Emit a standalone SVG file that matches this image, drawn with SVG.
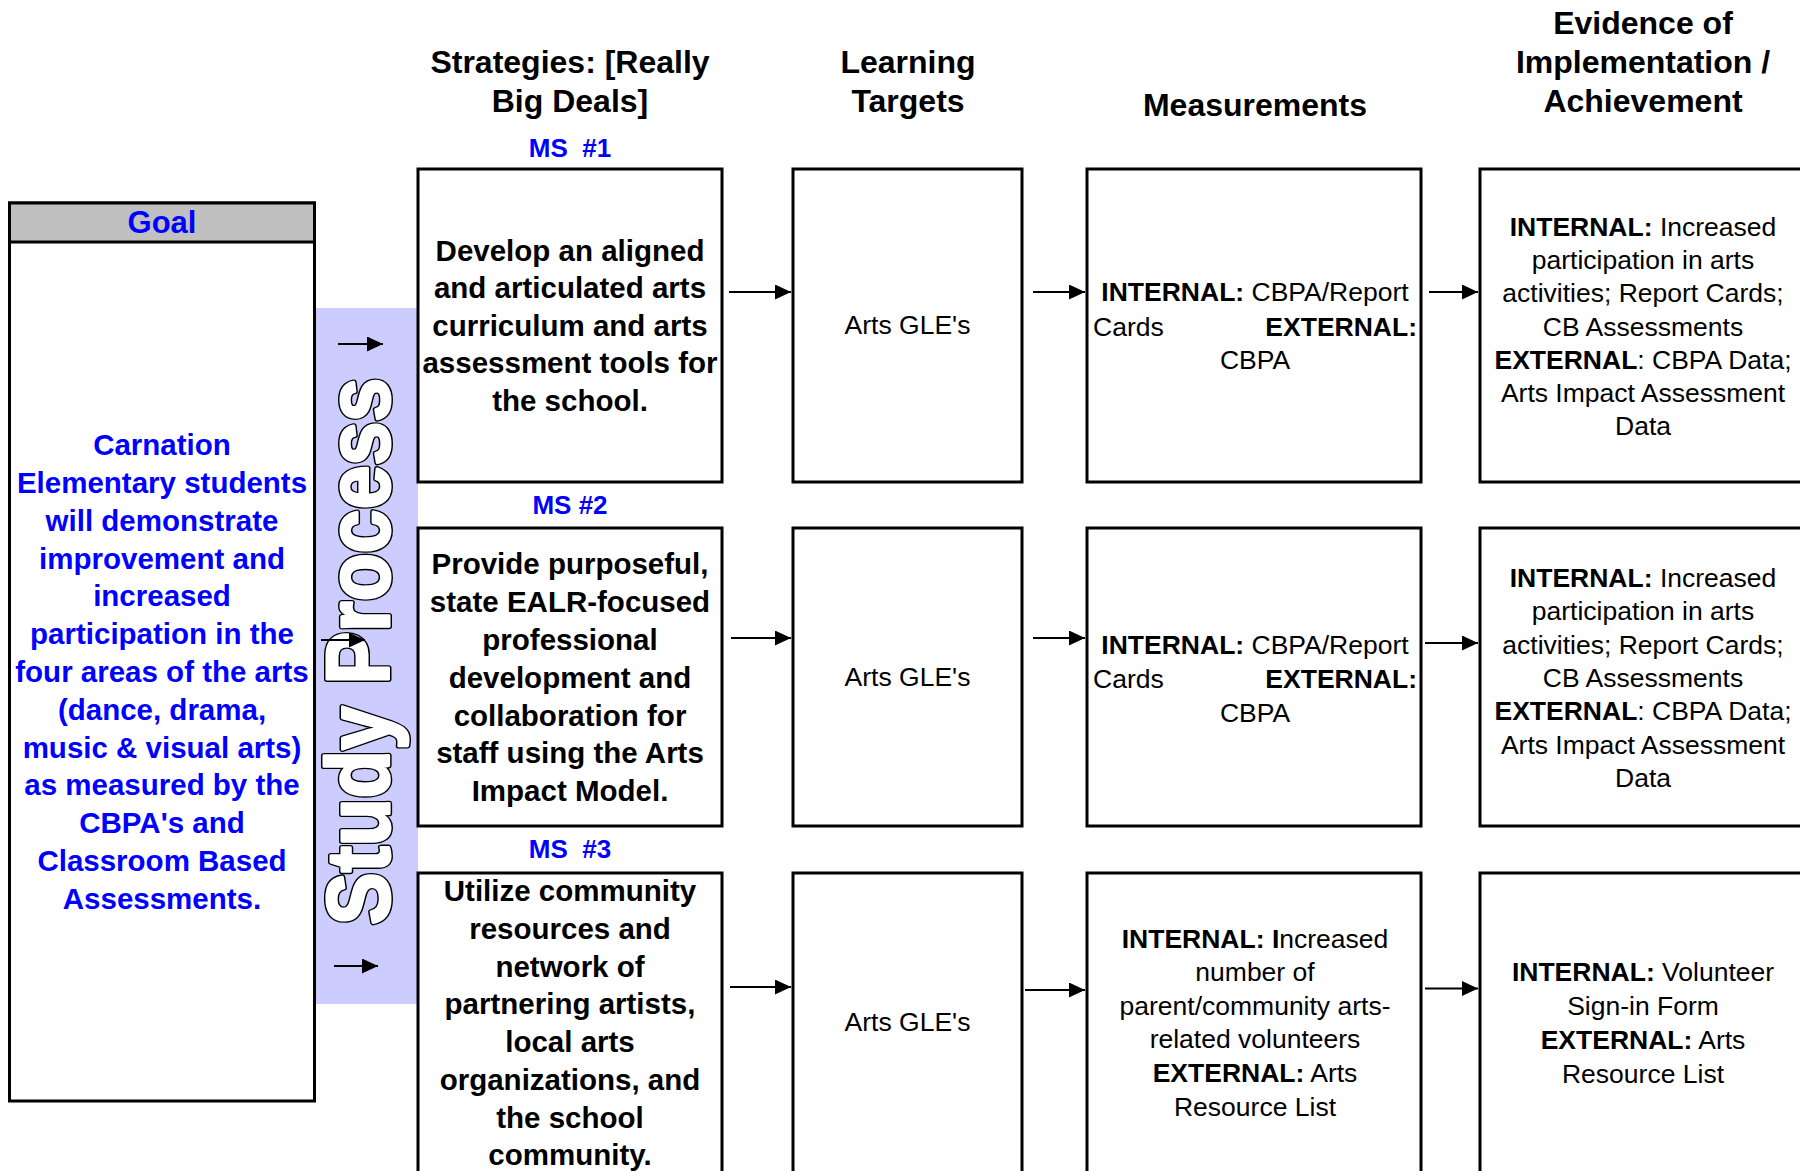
<svg xmlns="http://www.w3.org/2000/svg" width="1800" height="1171" viewBox="0 0 1800 1171">
<style>
text{font-family:"Liberation Sans",Arial,Helvetica,sans-serif;text-anchor:middle}
.hdr{font-size:32px;font-weight:bold;fill:#000}
.ms{font-size:26px;font-weight:bold;fill:#0000FF}
.strat{font-size:29.5px;font-weight:bold;fill:#000}
.goal{font-size:29.5px;font-weight:bold;fill:#0000FF}
.body{font-size:26.5px;fill:#000}
.b{font-weight:bold}
.box{fill:#fff;stroke:#000;stroke-width:3}
.sp{text-anchor:start;font-size:89px;font-weight:bold;fill:#fff}
.conn line{stroke:#000;stroke-width:2;marker-end:url(#ah)}
</style>
<defs>
<marker id="ah" markerUnits="userSpaceOnUse" markerWidth="16" markerHeight="15" refX="16" refY="7.5" orient="auto">
<path d="M0,0 L16,7.5 L0,15 z" fill="#000"/>
</marker>
</defs>
<rect width="1800" height="1171" fill="#fff"/>

<g id="headers">
<text class="hdr" x="570" y="73">Strategies: [Really</text>
<text class="hdr" x="570" y="112">Big Deals]</text>
<text class="hdr" x="908" y="73">Learning</text>
<text class="hdr" x="908" y="112">Targets</text>
<text class="hdr" x="1255" y="116">Measurements</text>
<text class="hdr" x="1643" y="34">Evidence of</text>
<text class="hdr" x="1643" y="73">Implementation /</text>
<text class="hdr" x="1643" y="112">Achievement</text>
</g>

<g id="study-process">
<rect x="315" y="308" width="103" height="696" fill="#CCCCFF"/>
<text class="sp" transform="translate(389,925) rotate(-90)" style="stroke:#000;stroke-width:6;stroke-linejoin:round" textLength="547" lengthAdjust="spacingAndGlyphs">Study Process</text>
<text class="sp" transform="translate(389,925) rotate(-90)" style="stroke:#fff;stroke-width:3;stroke-linejoin:round" textLength="547" lengthAdjust="spacingAndGlyphs">Study Process</text>
</g>

<g id="goal">
<rect class="box" x="9.5" y="203" width="305" height="898"/>
<rect x="9.5" y="203" width="305" height="39" fill="#C0C0C0" stroke="#000" stroke-width="3"/>
<text x="162" y="233" style="font-size:31px;font-weight:bold;fill:#0000FF">Goal</text>
<text class="goal" x="162" y="455">Carnation</text>
<text class="goal" x="162" y="493">Elementary students</text>
<text class="goal" x="162" y="530.5">will demonstrate</text>
<text class="goal" x="162" y="568.5">improvement and</text>
<text class="goal" x="162" y="606">increased</text>
<text class="goal" x="162" y="644">participation in the</text>
<text class="goal" x="162" y="682">four areas of the arts</text>
<text class="goal" x="162" y="719.5">(dance, drama,</text>
<text class="goal" x="162" y="757.5">music &amp; visual arts)</text>
<text class="goal" x="162" y="795">as measured by the</text>
<text class="goal" x="162" y="833">CBPA's and</text>
<text class="goal" x="162" y="871">Classroom Based</text>
<text class="goal" x="162" y="908.5">Assessments.</text>
</g>

<g id="strategy-1">
<text class="ms" x="570" y="157" xml:space="preserve">MS  #1</text>
<rect class="box" x="418" y="169" width="304" height="313"/>
<text class="strat" x="570" y="261">Develop an aligned</text>
<text class="strat" x="570" y="298">and articulated arts</text>
<text class="strat" x="570" y="336">curriculum and arts</text>
<text class="strat" x="570" y="373">assessment tools for</text>
<text class="strat" x="570" y="411">the school.</text>
</g>

<g id="strategy-2">
<text class="ms" x="570" y="514">MS #2</text>
<rect class="box" x="418" y="528" width="304" height="298"/>
<text class="strat" x="570" y="574">Provide purposeful,</text>
<text class="strat" x="570" y="612">state EALR-focused</text>
<text class="strat" x="570" y="650">professional</text>
<text class="strat" x="570" y="688">development and</text>
<text class="strat" x="570" y="726">collaboration for</text>
<text class="strat" x="570" y="763">staff using the Arts</text>
<text class="strat" x="570" y="801">Impact Model.</text>
</g>

<g id="strategy-3">
<text class="ms" x="570" y="858" xml:space="preserve">MS  #3</text>
<rect class="box" x="418" y="873" width="304" height="330"/>
<text class="strat" x="570" y="901">Utilize community</text>
<text class="strat" x="570" y="939">resources and</text>
<text class="strat" x="570" y="977">network of</text>
<text class="strat" x="570" y="1014">partnering artists,</text>
<text class="strat" x="570" y="1052">local arts</text>
<text class="strat" x="570" y="1090">organizations, and</text>
<text class="strat" x="570" y="1128">the school</text>
<text class="strat" x="570" y="1165">community.</text>
</g>

<g id="target-1">
<rect class="box" x="793" y="169" width="229" height="313"/>
<text class="body" x="907.5" y="334">Arts GLE's</text>
</g>
<g id="target-2">
<rect class="box" x="793" y="528" width="229" height="298"/>
<text class="body" x="907.5" y="686">Arts GLE's</text>
</g>
<g id="target-3">
<rect class="box" x="793" y="873" width="229" height="330"/>
<text class="body" x="907.5" y="1031">Arts GLE's</text>
</g>

<g id="measurement-1">
<rect class="box" x="1087" y="169" width="334" height="313"/>
<text class="body" x="1255" y="301"><tspan class="b">INTERNAL:</tspan> CBPA/Report</text>
<text class="body" x="1093" y="335.5" style="text-anchor:start">Cards</text>
<text class="body b" x="1417" y="335.5" style="text-anchor:end">EXTERNAL:</text>
<text class="body" x="1255" y="369">CBPA</text>
</g>
<g id="measurement-2">
<rect class="box" x="1087" y="528" width="334" height="298"/>
<text class="body" x="1255" y="653.5"><tspan class="b">INTERNAL:</tspan> CBPA/Report</text>
<text class="body" x="1093" y="688" style="text-anchor:start">Cards</text>
<text class="body b" x="1417" y="688" style="text-anchor:end">EXTERNAL:</text>
<text class="body" x="1255" y="721.5">CBPA</text>
</g>
<g id="measurement-3">
<rect class="box" x="1087" y="873" width="334" height="330"/>
<text class="body" x="1255" y="947.5"><tspan class="b">INTERNAL: I</tspan>ncreased</text>
<text class="body" x="1255" y="981">number of</text>
<text class="body" x="1255" y="1014.5">parent/community arts-</text>
<text class="body" x="1255" y="1048">related volunteers</text>
<text class="body" x="1255" y="1081.5"><tspan class="b">EXTERNAL:</tspan> Arts</text>
<text class="body" x="1255" y="1115.5">Resource List</text>
</g>

<g id="evidence-1">
<rect class="box" x="1480" y="169" width="330" height="313"/>
<text class="body" x="1643" y="235.5"><tspan class="b">INTERNAL:</tspan> Increased</text>
<text class="body" x="1643" y="269">participation in arts</text>
<text class="body" x="1643" y="302">activities; Report Cards;</text>
<text class="body" x="1643" y="335.5">CB Assessments</text>
<text class="body" x="1643" y="369"><tspan class="b">EXTERNAL</tspan>: CBPA Data;</text>
<text class="body" x="1643" y="402">Arts Impact Assessment</text>
<text class="body" x="1643" y="435">Data</text>
</g>
<g id="evidence-2">
<rect class="box" x="1480" y="528" width="330" height="298"/>
<text class="body" x="1643" y="587"><tspan class="b">INTERNAL:</tspan> Increased</text>
<text class="body" x="1643" y="620">participation in arts</text>
<text class="body" x="1643" y="653.5">activities; Report Cards;</text>
<text class="body" x="1643" y="686.5">CB Assessments</text>
<text class="body" x="1643" y="720"><tspan class="b">EXTERNAL</tspan>: CBPA Data;</text>
<text class="body" x="1643" y="753.5">Arts Impact Assessment</text>
<text class="body" x="1643" y="786.5">Data</text>
</g>
<g id="evidence-3">
<rect class="box" x="1480" y="873" width="330" height="330"/>
<text class="body" x="1643" y="980.5"><tspan class="b">INTERNAL:</tspan> Volunteer</text>
<text class="body" x="1643" y="1015">Sign-in Form</text>
<text class="body" x="1643" y="1048.5"><tspan class="b">EXTERNAL:</tspan> Arts</text>
<text class="body" x="1643" y="1083">Resource List</text>
</g>

<g id="connectors" class="conn">
<line x1="338" y1="344" x2="383" y2="344"/>
<line x1="321" y1="640" x2="365" y2="640"/>
<line x1="334" y1="966" x2="378" y2="966"/>
<line x1="729" y1="292" x2="791" y2="292"/>
<line x1="1033" y1="292" x2="1085" y2="292"/>
<line x1="1429" y1="292" x2="1478" y2="292"/>
<line x1="731" y1="638" x2="791" y2="638"/>
<line x1="1033" y1="638" x2="1085" y2="638"/>
<line x1="1425" y1="643" x2="1478" y2="643"/>
<line x1="730" y1="987" x2="791" y2="987"/>
<line x1="1025" y1="990" x2="1085" y2="990"/>
<line x1="1425" y1="988.5" x2="1478" y2="988.5"/>
</g>
</svg>
